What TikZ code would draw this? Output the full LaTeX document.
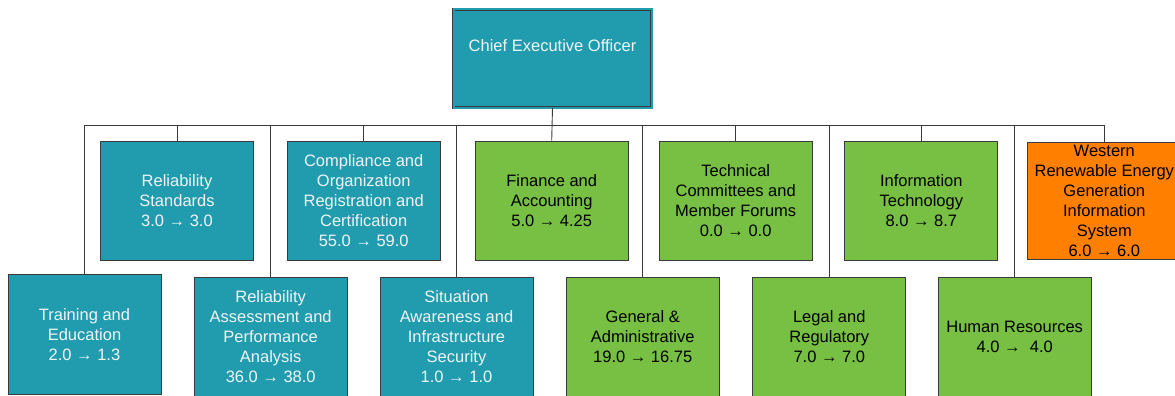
\documentclass[tikz,border=0pt]{standalone}
\usepackage{fontspec}
\setmainfont{Liberation Sans}
\usepackage{tikz}
\usetikzlibrary{positioning, calc}
\definecolor{TealBox}{RGB}{32,156,174}
\definecolor{GreenBox}{RGB}{119,192,67}
\definecolor{OrangeBox}{RGB}{255,127,0}
\definecolor{LineGray}{RGB}{58,58,58}
\definecolor{PaleText}{RGB}{240,244,244}
\tikzset{
	every node/.style={
		align=center,
	},
}
\tikzstyle{every unit} = [draw=LineGray, line width=0.9pt, inner sep=0pt, minimum width=153pt, minimum height=119pt, font=\fontsize{16.5}{20}\selectfont]
\tikzstyle{teal unit} = [every unit, fill=TealBox, text=PaleText]
\tikzstyle{green unit} = [every unit, fill=GreenBox, text=black]
\tikzstyle{orange unit} = [every unit, fill=OrangeBox, text=black, minimum height=117pt]
\tikzstyle{chief unit} = [every unit, fill=TealBox, text=PaleText, double=TealBox, double distance=2pt, line width=0.8pt, minimum width=198pt, minimum height=98pt, text depth=25pt]
\tikzstyle{every link} = [draw=LineGray, line width=0.9pt]

\begin{document}
\begin{tikzpicture}[x=1pt, y=-1pt]
		\useasboundingbox (0,0) rectangle (1175,396);
		
		\coordinate (bus) at (0,125);
		
		% head of the chart
		\node[chief unit] (ceo) at (552.5,58.5) {Chief Executive Officer};
		
		% upper row
		\node[teal unit] (relstd) at (177,200.5) {Reliability\\Standards\\3.0 → 3.0};
		\node[teal unit] (comp) at (363.7,200.5) {Compliance and\\Organization\\Registration and\\Certification\\55.0 → 59.0};
		\node[green unit] (fin) at (551.7,200.5) {Finance and\\Accounting\\5.0 → 4.25};
		\node[green unit] (tech) at (735.7,200.5) {Technical\\Committees and\\Member Forums\\0.0 → 0.0};
		\node[green unit] (info) at (921.3,200.5) {Information\\Technology\\8.0 → 8.7};
		\node[orange unit] (west) at (1104.3,200.5) {Western\\Renewable Energy\\Generation\\Information\\System\\6.0 → 6.0};
		
		% lower row
		\node[teal unit, minimum height=120pt] (train) at (84.5,334.2) {Training and\\Education\\2.0 → 1.3};
		\node[teal unit] (relas) at (270.7,336.8) {Reliability\\Assessment and\\Performance\\Analysis\\36.0 → 38.0};
		\node[teal unit] (sitaw) at (456.5,336.8) {Situation\\Awareness and\\Infrastructure\\Security\\1.0 → 1.0};
		\node[green unit] (genad) at (642.7,336.8) {General \&\\Administrative\\19.0 → 16.75};
		\node[green unit] (legal) at (829.3,336.8) {Legal and\\Regulatory\\7.0 → 7.0};
		\node[green unit] (hr) at (1014.7,336.8) {Human Resources\\4.0 →\ \ 4.0};
		
		% links
		\draw[every link] (ceo.south) -- (fin.north);
		\draw[every link] (train.north) -- (train.north |- bus) -- (west.north |- bus) -- (west.north);
		\foreach \u in {relstd, comp, tech, info, relas, sitaw, genad, legal, hr}
			\draw[every link] (\u.north) -- (\u.north |- bus);
		
	\end{tikzpicture}
\end{document}
